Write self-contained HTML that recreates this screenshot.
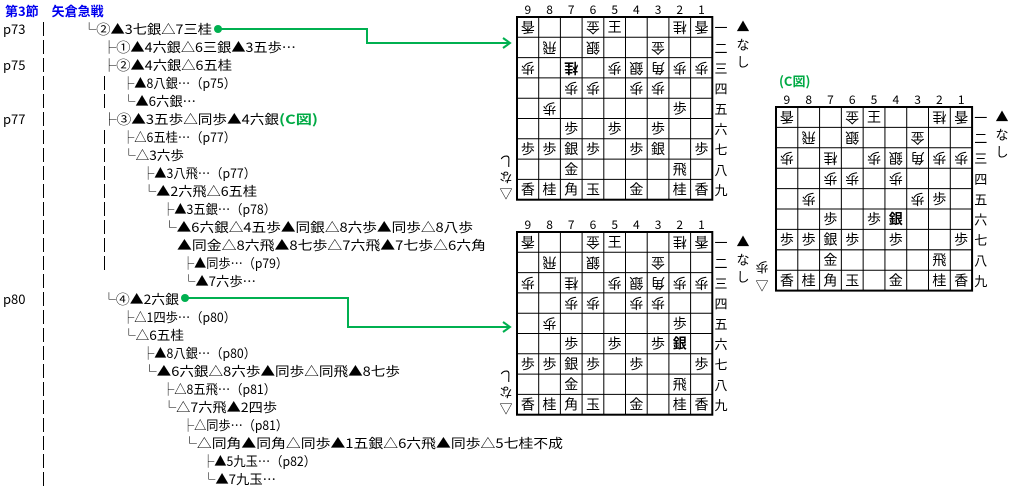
<!DOCTYPE html>
<html><head><meta charset="utf-8"><style>
html,body{margin:0;padding:0;background:#fff;width:1018px;height:487px;overflow:hidden}
svg{display:block}
text{font-family:"Noto Sans CJK JP","Liberation Sans",sans-serif}
.t{font-size:13px;fill:#000}
.p{font-size:14px;text-anchor:middle;dominant-baseline:central}
.b{font-weight:bold}
.n{font-size:12px;text-anchor:middle}
.k{font-size:13px;text-anchor:middle;dominant-baseline:central}
</style></head><body>
<svg width="1018" height="487" viewBox="0 0 1018 487" xmlns="http://www.w3.org/2000/svg">
<defs>
<g id="grid">
<rect x="0" y="0" width="195.3" height="182.7" fill="none" stroke="#000" stroke-width="2"/>
<path d="M21.7 0V182.7M43.4 0V182.7M65.1 0V182.7M86.8 0V182.7M108.5 0V182.7M130.2 0V182.7M151.9 0V182.7M173.6 0V182.7M0 20.3H195.3M0 40.6H195.3M0 60.9H195.3M0 81.2H195.3M0 101.5H195.3M0 121.8H195.3M0 142.1H195.3M0 162.4H195.3" stroke="#000" stroke-width="1"/>
<g class="n"><text x="10.85" y="-3">9</text><text x="32.55" y="-3">8</text><text x="54.25" y="-3">7</text><text x="75.95" y="-3">6</text><text x="97.65" y="-3">5</text><text x="119.35" y="-3">4</text><text x="141.05" y="-3">3</text><text x="162.75" y="-3">2</text><text x="184.45" y="-3">1</text></g>
<g class="k"><text x="204" y="10.15">一</text><text x="204" y="30.45">二</text><text x="204" y="50.75">三</text><text x="204" y="71.05">四</text><text x="204" y="91.35">五</text><text x="204" y="111.65">六</text><text x="204" y="131.95">七</text><text x="204" y="152.25">八</text><text x="204" y="172.55">九</text></g>
</g>
<g id="common">
<text class="p" transform="translate(10.85 10.15) rotate(180)">香</text>
<text class="p" transform="translate(75.95 10.15) rotate(180)">金</text>
<text class="p" x="97.65" y="10.15">王</text>
<text class="p" transform="translate(162.75 10.15) rotate(180)">桂</text>
<text class="p" transform="translate(184.45 10.15) rotate(180)">香</text>
<text class="p" transform="translate(32.55 30.45) rotate(180)">飛</text>
<text class="p" transform="translate(75.95 30.45) rotate(180)">銀</text>
<text class="p" transform="translate(141.05 30.45) rotate(180)">金</text>
<text class="p" transform="translate(10.85 50.75) rotate(180)">歩</text>
<text class="p" transform="translate(97.65 50.75) rotate(180)">歩</text>
<text class="p" transform="translate(119.35 50.75) rotate(180)">銀</text>
<text class="p" transform="translate(141.05 50.75) rotate(180)">角</text>
<text class="p" transform="translate(162.75 50.75) rotate(180)">歩</text>
<text class="p" transform="translate(184.45 50.75) rotate(180)">歩</text>
<text class="p" transform="translate(54.25 71.05) rotate(180)">歩</text>
<text class="p" transform="translate(75.95 71.05) rotate(180)">歩</text>
<text class="p" transform="translate(119.35 71.05) rotate(180)">歩</text>
<text class="p" transform="translate(32.55 91.35) rotate(180)">歩</text>
<text class="p" x="162.75" y="91.35">歩</text>
<text class="p" x="54.25" y="111.65">歩</text>
<text class="p" x="97.65" y="111.65">歩</text>
<text class="p" x="10.85" y="131.95">歩</text>
<text class="p" x="32.55" y="131.95">歩</text>
<text class="p" x="54.25" y="131.95">銀</text>
<text class="p" x="75.95" y="131.95">歩</text>
<text class="p" x="119.35" y="131.95">歩</text>
<text class="p" x="184.45" y="131.95">歩</text>
<text class="p" x="54.25" y="152.25">金</text>
<text class="p" x="162.75" y="152.25">飛</text>
<text class="p" x="10.85" y="172.55">香</text>
<text class="p" x="32.55" y="172.55">桂</text>
<text class="p" x="54.25" y="172.55">角</text>
<text class="p" x="75.95" y="172.55">玉</text>
<text class="p" x="119.35" y="172.55">金</text>
<text class="p" x="162.75" y="172.55">桂</text>
<text class="p" x="184.45" y="172.55">香</text>
</g>
</defs>

<g transform="translate(517 17)">
<use href="#grid"/><use href="#common"/>
<text class="p b" transform="translate(54.25 50.75) rotate(180)">桂</text>
<text class="p" transform="translate(141.05 71.05) rotate(180)">歩</text>
<text class="p" x="141.05" y="111.65">歩</text>
<text class="p" x="141.05" y="131.95">銀</text>
</g>
<g class="k"><text x="743" y="26">▲</text><text x="743" y="44">な</text><text x="743" y="61">し</text>
<text transform="translate(506 162) rotate(180)">し</text><text transform="translate(506 178) rotate(180)">な</text><text x="506" y="193">▽</text></g>

<g transform="translate(517 232)">
<use href="#grid"/><use href="#common"/>
<text class="p" transform="translate(54.25 50.75) rotate(180)">桂</text>
<text class="p" transform="translate(141.05 71.05) rotate(180)">歩</text>
<text class="p" x="141.05" y="111.65">歩</text>
<text class="p b" x="162.75" y="111.65">銀</text>
</g>
<g class="k"><text x="743" y="241">▲</text><text x="743" y="259">な</text><text x="743" y="276">し</text>
<text transform="translate(506 377) rotate(180)">し</text><text transform="translate(506 393) rotate(180)">な</text><text x="506" y="408">▽</text></g>

<text x="779" y="86" font-size="13" font-weight="bold" fill="#00aa44">(C図)</text>
<g transform="translate(776 107) scale(1.004 1.005)">
<use href="#grid"/><use href="#common"/>
<text class="p" transform="translate(54.25 50.75) rotate(180)">桂</text>
<text class="p" transform="translate(141.05 91.35) rotate(180)">歩</text>
<text class="p b" x="119.35" y="111.65">銀</text>
</g>
<g class="k"><text x="1002" y="116">▲</text><text x="1002" y="134">な</text><text x="1002" y="151">し</text>
<text transform="translate(762 268) rotate(180)">歩</text><text x="762" y="285">▽</text></g>

<g stroke="#00b050" stroke-width="2" fill="none">
<path d="M218 29H367V43H510"/><path d="M503 38L510 43L503 48"/>
<path d="M185 298H348V327H510"/><path d="M503 322L510 327L503 332"/>
</g>
<circle cx="218" cy="29" r="4" fill="#00b050"/>
<circle cx="185" cy="298" r="4" fill="#00b050"/>

<text x="5" y="16" font-size="13" font-weight="bold" fill="#0000ee">第3節　矢倉急戦</text>

<g class="t"><text x="3" y="34">p73</text><text x="3" y="70">p75</text><text x="3" y="124">p77</text><text x="3" y="304">p80</text></g>
<g stroke="#000" stroke-width="1">
<path d="M43.5 22V36M43.5 40V54M43.5 58V72M43.5 76V90M43.5 94V108M43.5 112V126M43.5 130V144M43.5 148V162M43.5 166V180M43.5 184V198M43.5 202V216M43.5 220V234M43.5 238V252M43.5 256V270M43.5 274V288M43.5 292V306M43.5 310V324M43.5 328V342M43.5 346V360M43.5 364V378M43.5 382V396M43.5 400V414M43.5 418V432M43.5 436V450M43.5 454V468M43.5 472V486"/>
<path d="M104.5 76V90M104.5 94V108M104.5 130V144M104.5 148V162M104.5 166V180M104.5 184V198M104.5 202V216M104.5 220V234M104.5 238V252M104.5 256V270"/>
</g>

<g class="t">
<text x="82" y="34" textLength="130" lengthAdjust="spacingAndGlyphs">└②▲3七銀△7三桂</text>
<text x="102" y="52" textLength="194" lengthAdjust="spacingAndGlyphs">├①▲4六銀△6三銀▲3五歩…</text>
<text x="102" y="70" textLength="130" lengthAdjust="spacingAndGlyphs">├②▲4六銀△6五桂</text>
<text x="122" y="88" textLength="114" lengthAdjust="spacingAndGlyphs">├▲8八銀…（p75）</text>
<text x="122" y="106" textLength="74" lengthAdjust="spacingAndGlyphs">└▲6六銀…</text>
<text x="102" y="124" textLength="177" lengthAdjust="spacingAndGlyphs">├③▲3五歩△同歩▲4六銀</text>
<text x="279" y="124" textLength="39" lengthAdjust="spacingAndGlyphs" font-weight="bold" fill="#00aa44">(C図)</text>
<text x="122" y="142" textLength="114" lengthAdjust="spacingAndGlyphs">├△6五桂…（p77）</text>
<text x="122" y="160" textLength="62" lengthAdjust="spacingAndGlyphs">└△3六歩</text>
<text x="142" y="178" textLength="114" lengthAdjust="spacingAndGlyphs">├▲3八飛…（p77）</text>
<text x="142" y="196" textLength="115" lengthAdjust="spacingAndGlyphs">└▲2六飛△6五桂</text>
<text x="162" y="214" textLength="114" lengthAdjust="spacingAndGlyphs">├▲3五銀…（p78）</text>
<text x="162" y="232" textLength="311" lengthAdjust="spacingAndGlyphs">└▲6六銀△4五歩▲同銀△8六歩▲同歩△8八歩</text>
<text x="177" y="250" textLength="309" lengthAdjust="spacingAndGlyphs">▲同金△8六飛▲8七歩△7六飛▲7七歩△6六角</text>
<text x="182" y="268" textLength="106" lengthAdjust="spacingAndGlyphs">├▲同歩…（p79）</text>
<text x="182" y="286" textLength="74" lengthAdjust="spacingAndGlyphs">└▲7六歩…</text>
<text x="102" y="304" textLength="77" lengthAdjust="spacingAndGlyphs">└④▲2六銀</text>
<text x="122" y="322" textLength="114" lengthAdjust="spacingAndGlyphs">├△1四歩…（p80）</text>
<text x="122" y="340" textLength="62" lengthAdjust="spacingAndGlyphs">└△6五桂</text>
<text x="142" y="358" textLength="114" lengthAdjust="spacingAndGlyphs">├▲8八銀…（p80）</text>
<text x="142" y="376" textLength="258" lengthAdjust="spacingAndGlyphs">└▲6六銀△8六歩▲同歩△同飛▲8七歩</text>
<text x="162" y="394" textLength="114" lengthAdjust="spacingAndGlyphs">├△8五飛…（p81）</text>
<text x="162" y="412" textLength="115" lengthAdjust="spacingAndGlyphs">└△7六飛▲2四歩</text>
<text x="182" y="430" textLength="106" lengthAdjust="spacingAndGlyphs">├△同歩…（p81）</text>
<text x="182" y="448" textLength="381" lengthAdjust="spacingAndGlyphs">└△同角▲同角△同歩▲1五銀△6六飛▲同歩△5七桂不成</text>
<text x="202" y="466" textLength="114" lengthAdjust="spacingAndGlyphs">├▲5九玉…（p82）</text>
<text x="202" y="484" textLength="74" lengthAdjust="spacingAndGlyphs">└▲7九玉…</text>
</g>
</svg>
</body></html>
